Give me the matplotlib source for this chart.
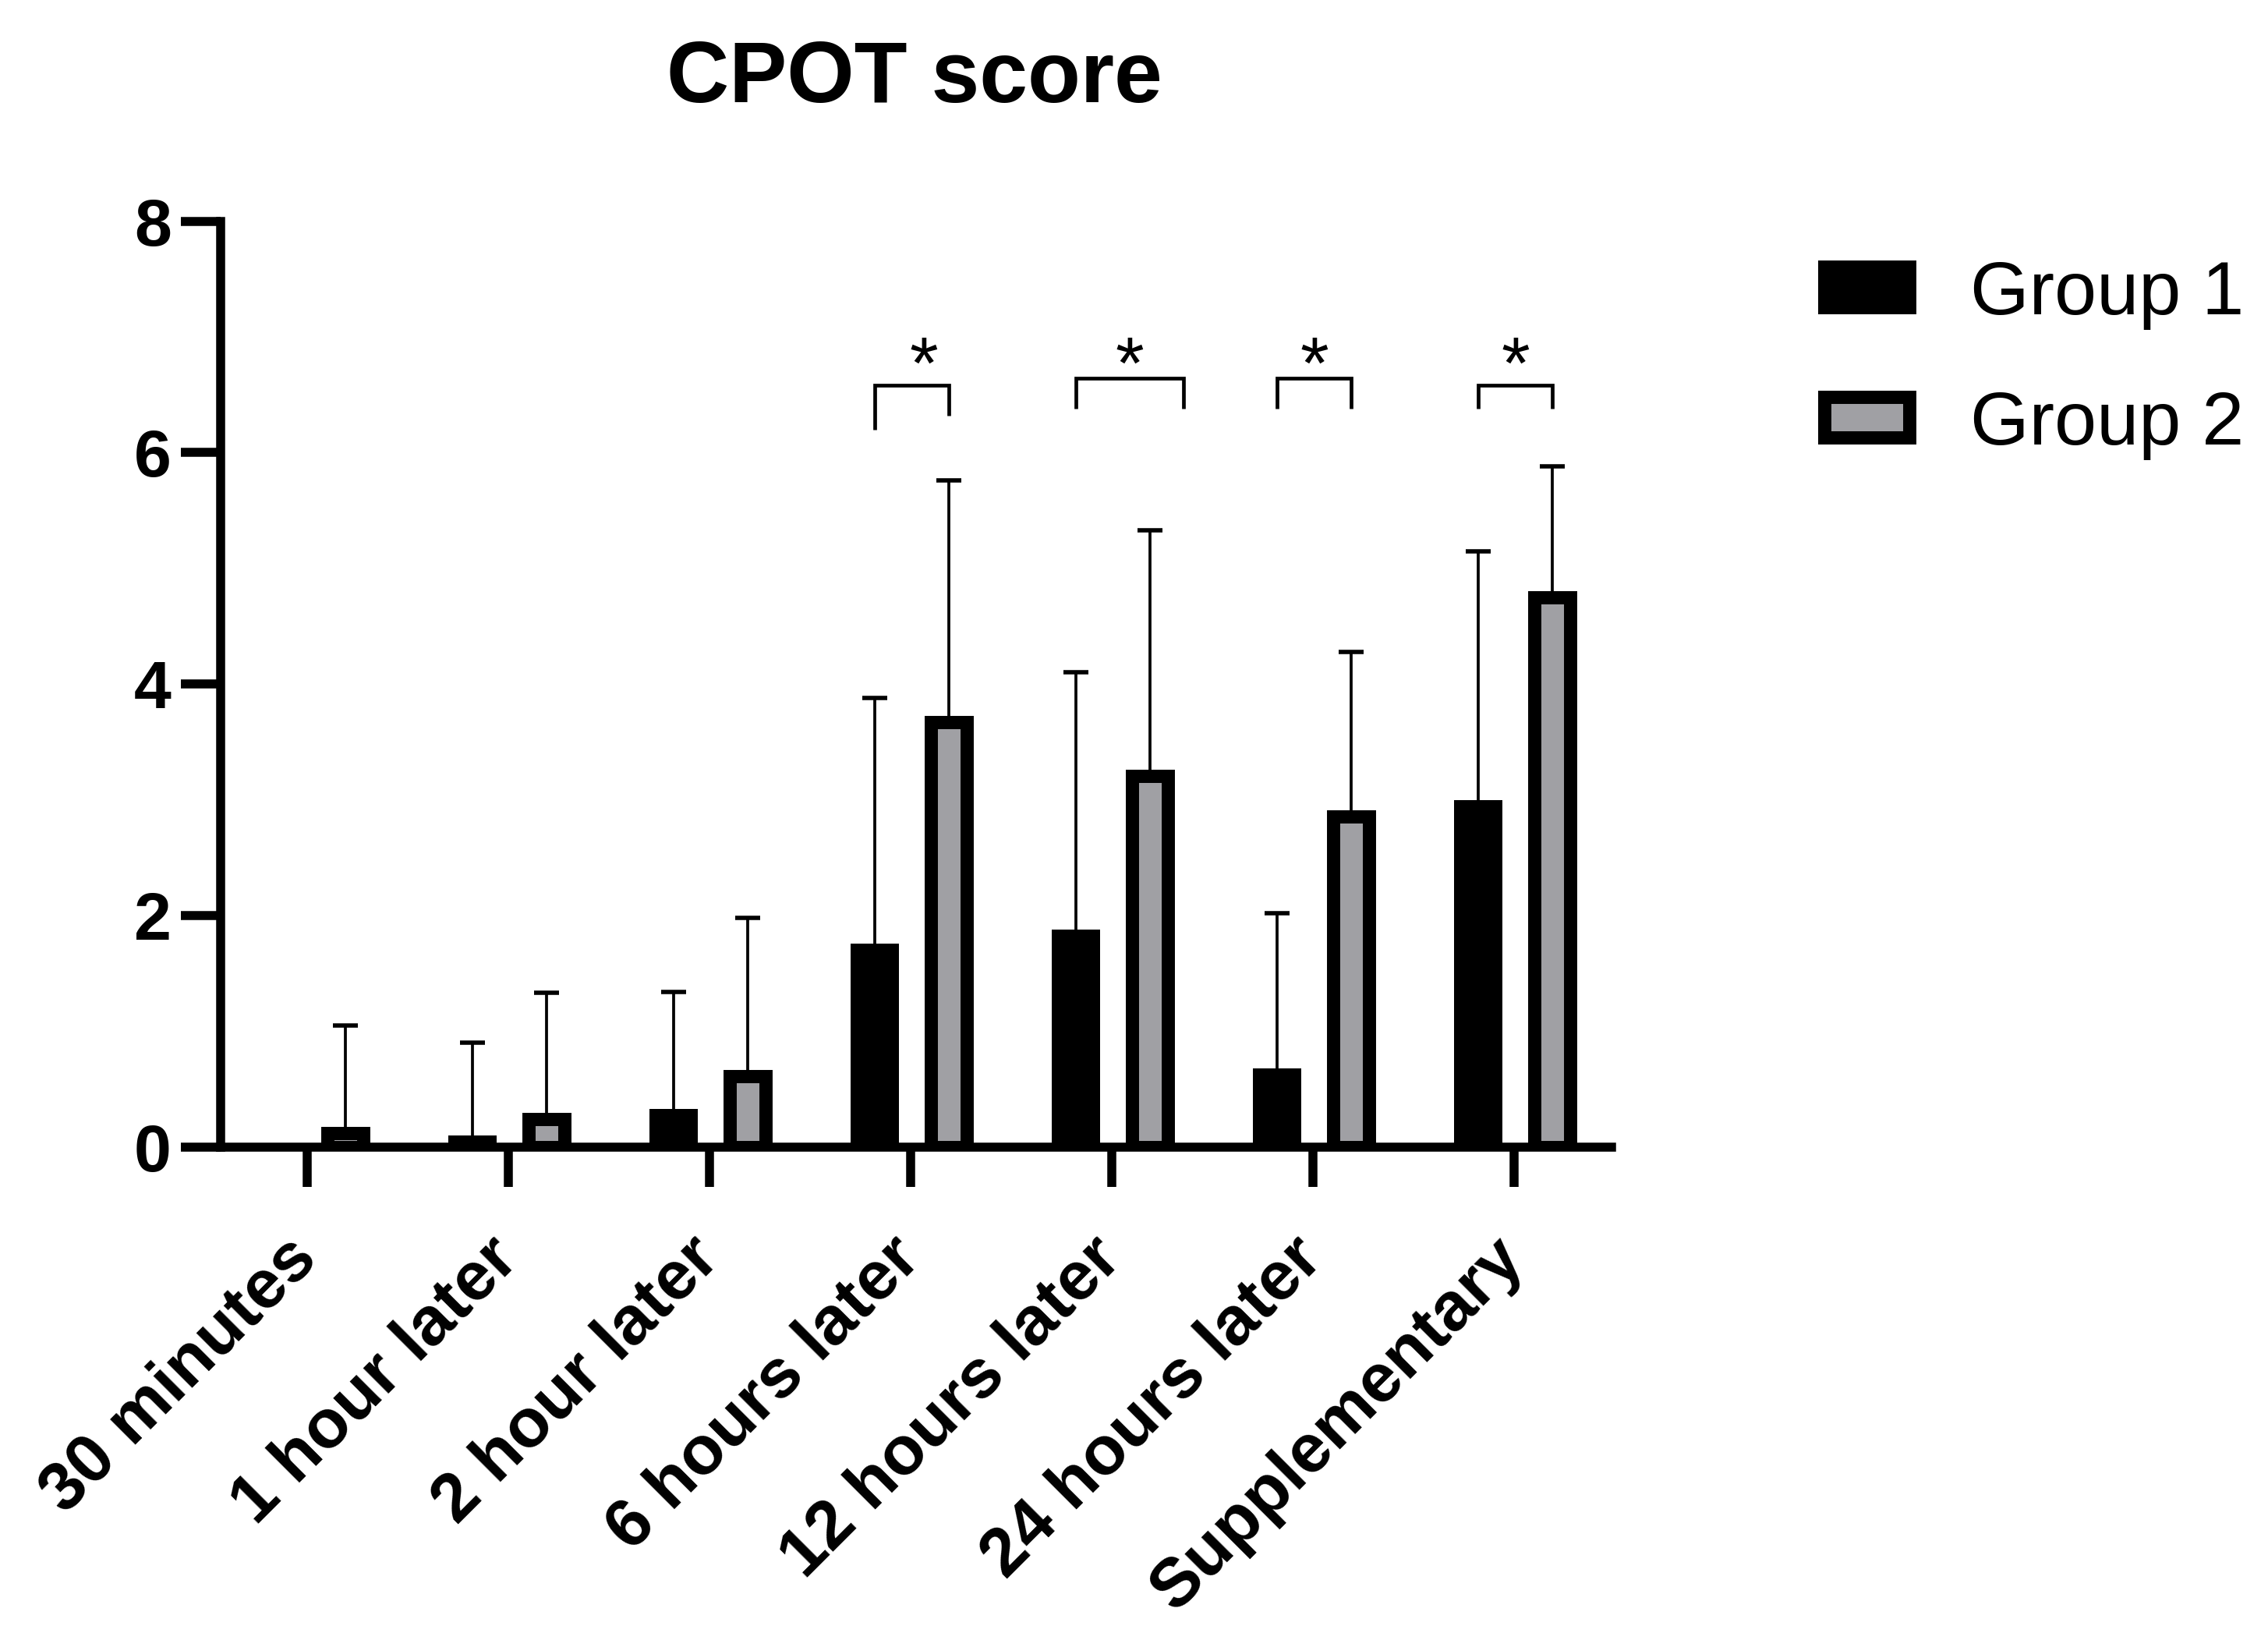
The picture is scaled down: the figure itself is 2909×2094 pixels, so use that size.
import numpy as np
import matplotlib
matplotlib.use('Agg')
import matplotlib.pyplot as plt
from matplotlib.patches import Patch

# ---------------- data ----------------
categories = ['30 minutes', '1 hour later', '2 hour later', '6 hours later',
              '12 hours later', '24 hours later', 'Supplementary']
group1_mean = [0.0, 0.10, 0.33, 1.76, 1.88, 0.68, 3.00]
group1_sd = [np.nan, 0.80, 1.01, 2.12, 2.22, 1.34, 2.15]
group2_mean = [0.12, 0.24, 0.61, 3.67, 3.21, 2.86, 4.75]
group2_sd = [0.93, 1.095, 1.37, 2.09, 2.12, 1.415, 1.13]
series_labels = ['Group 1', 'Group 2']
yticks = [0, 2, 4, 6, 8]
title = 'CPOT score'

# significance marks: category index, bracket top, left leg bottom, right leg bottom
sig_index = [3, 4, 5, 6]
sig_top = [6.58, 6.64, 6.64, 6.58]
sig_left_bottom = [6.20, 6.38, 6.38, 6.38]
sig_right_bottom = [6.32, 6.38, 6.38, 6.38]
sig_label = ['*', '*', '*', '*']
star_y = 6.425

# ---------------- style ----------------
plt.rcParams['font.family'] = ['Liberation Sans', 'DejaVu Sans']
GREY = '#A0A0A4'
DPI = 100
fig = plt.figure(figsize=(29.09, 20.94), dpi=DPI)
ax = fig.add_axes([0.0973, 0.2975, 0.6133, 0.5671])

x = np.arange(len(categories))
off1, off2 = -0.18, 0.19
w1, w2 = 0.24, 0.18
edge_lw = 12.2
axis_lw = 8.3

ax.bar(x + off1, group1_mean, width=w1, color='black', linewidth=0, zorder=2)
ax.bar(x + off2, group2_mean, width=w2, color=GREY, edgecolor='black',
       linewidth=edge_lw, zorder=2)

for xs, m, s in [(x + off1, group1_mean, group1_sd), (x + off2, group2_mean, group2_sd)]:
    m = np.asarray(m, float)
    s = np.asarray(s, float)
    eb = ax.errorbar(xs, m, yerr=[np.zeros_like(s), s], fmt='none', ecolor='black',
                     elinewidth=2.7, capsize=11.4, capthick=4, zorder=1)
    eb[1][0].set_visible(False)

# significance brackets
bracket_right_extra = {4: 0.357}
for i, top, lb, rb, lab in zip(sig_index, sig_top, sig_left_bottom, sig_right_bottom, sig_label):
    xl = i + off1
    xr = i + bracket_right_extra.get(i, off2)
    ax.plot([xl, xl, xr, xr], [lb, top, top, rb], color='black', lw=3.4,
            solid_joinstyle='miter', solid_capstyle='butt', clip_on=False, zorder=3)
    xm = (xl + xr) / 2 + (0.06 if i == 3 else 0.0)
    ax.text(xm, star_y, lab, ha='center', va='bottom', fontsize=68,
            color='black', clip_on=False)

ax.set_xlim(-0.43, 6.484)
ax.set_ylim(0, 8)
ax.set_yticks(yticks)
ax.set_yticklabels([str(v) for v in yticks])
ax.set_xticks(x)
ax.set_xticklabels(categories, rotation=45, ha='right', va='center',
                   rotation_mode='anchor')

for side in ['top', 'right']:
    ax.spines[side].set_visible(False)
for side in ['left', 'bottom']:
    ax.spines[side].set_linewidth(axis_lw)
    ax.spines[side].set_capstyle('projecting')

ax.tick_params(axis='both', which='major', direction='out', length=36.5, width=axis_lw,
               color='black')
ax.tick_params(axis='y', pad=9, labelsize=62)
ax.tick_params(axis='x', pad=57, labelsize=63.5)
for lab in ax.get_xticklabels() + ax.get_yticklabels():
    lab.set_fontweight('bold')

fig.text(0.4032, 0.9374, title, ha='center', va='baseline', fontsize=80,
         fontweight='bold')

handles = [Patch(facecolor='black', edgecolor='black', linewidth=edge_lw),
           Patch(facecolor=GREY, edgecolor='black', linewidth=edge_lw)]
fs_leg = 70
fs_px = fs_leg * DPI / 72
fig.legend(handles, series_labels, loc='upper left',
           bbox_to_anchor=(2339.5 / 2909, 0.8411), bbox_transform=fig.transFigure,
           frameon=False, fontsize=fs_leg, borderpad=0, borderaxespad=0,
           handlelength=109 / fs_px, handleheight=43 / fs_px,
           handletextpad=0.81, labelspacing=0.79)

fig.savefig('out.png', dpi=DPI, facecolor='white')
